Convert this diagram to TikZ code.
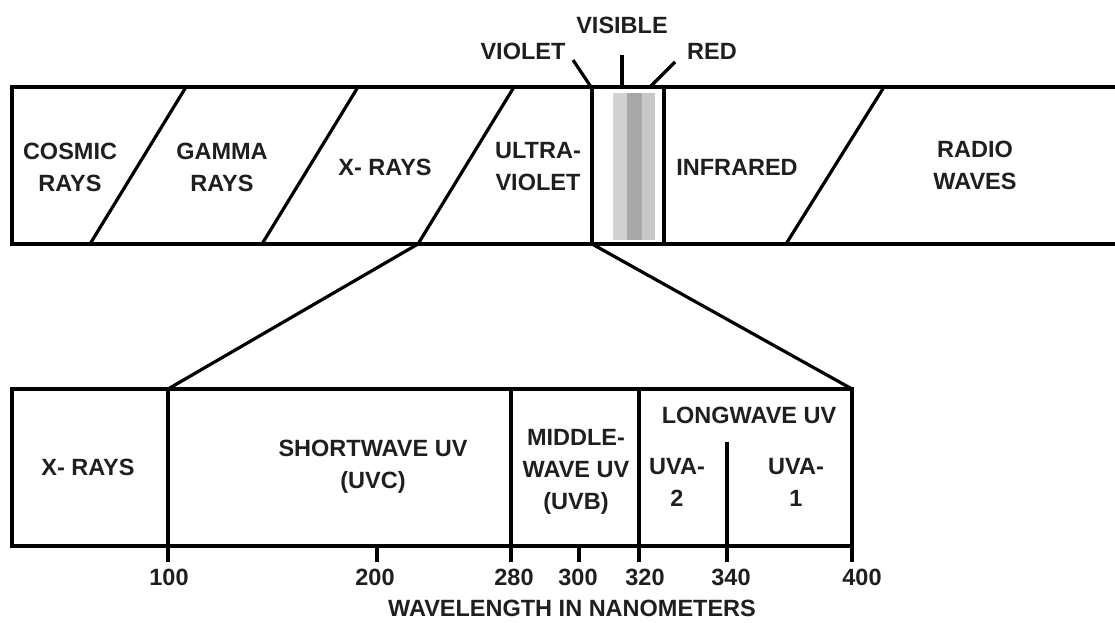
\documentclass[tikz,border=0pt]{standalone}
\usepackage{fontspec}
\setmainfont{Liberation Sans}
\begin{document}
\begin{tikzpicture}[x=1pt,y=-1pt,
  lw/.style={line width=3.2pt},
  lbl/.style={font=\bfseries\fontsize{23.5}{32}\selectfont, align=center, inner sep=0pt, text=black!88}]
\useasboundingbox (0,0) rectangle (1115,623);
% ---- top band ----
\coordinate (tl) at (12,87); \coordinate (tr) at (1115,87);
\coordinate (bl) at (12,244); \coordinate (br) at (1115,244);
% visible stripes
\fill[black!18] (613,93) rectangle (627,240);
\fill[black!34] (627,93) rectangle (642,240);
\fill[black!22] (642,93) rectangle (655,240);
\draw[lw] (tr) -- (tl) -- (bl) -- (br);
\foreach \t/\b [count=\i] in {186/90,358/262,514/418,884/786}{
  \coordinate (s\i t) at (\t,87); \coordinate (s\i b) at (\b,244);
  \draw[lw] (s\i t) -- (s\i b);
}
\coordinate (vlt) at (592,87); \coordinate (vlb) at (592,244);
\coordinate (vrt) at (664,87); \coordinate (vrb) at (664,244);
\draw[lw] (vlt) -- (vlb);
\draw[lw] (vrt) -- (vrb);
\node[lbl] (cosmic) at (70,167) {COSMIC\\RAYS};
\node[lbl] (gamma) at (222,167) {GAMMA\\RAYS};
\node[lbl] (xray) at (385,167) {X- RAYS};
\node[lbl] (uv) at (538,167) {ULTRA-\\VIOLET};
\node[lbl] (ir) at (737,167) {INFRARED};
\node[lbl] (radio) at (975,165) {RADIO\\WAVES};
% top labels
\node[lbl] (violet) at (523,51) {VIOLET};
\node[lbl] (visible) at (622,25) {VISIBLE};
\node[lbl] (red) at (712,51) {RED};
\coordinate (violetA) at (573,60); \coordinate (violetB) at (591,87);
\coordinate (visA) at (622,55); \coordinate (visB) at (622,87);
\coordinate (redA) at (675,62); \coordinate (redB) at (650,87);
\draw[lw] (violetA) -- (violetB);
\draw[lw] (visA) -- (visB);
\draw[lw] (redA) -- (redB);
\draw[lw] (vrt) -- (687,87);
% ---- bottom box ----
\coordinate (btl) at (12,389); \coordinate (bbr) at (852,546);
\draw[lw] (btl) rectangle (bbr);
\foreach \x/\n in {168/a,511/b,639/c,852/d}{
  \coordinate (\n t) at (\x,389); \coordinate (\n b) at (\x,562);
  \draw[lw] (\n t) -- (\n b);
}
\coordinate (uvat) at (727,442); \coordinate (uvab) at (727,562);
\draw[lw] (uvat) -- (uvab);
\foreach \x in {377,579}{ \draw[lw] (\x,546) -- (\x,562); }
% zoom lines
\draw[lw] (s3b) -- (at);
\draw[lw] (vlb) -- (dt);
% bottom labels
\node[lbl] at (88,467) {X- RAYS};
\node[lbl] at (373,467) {SHORTWAVE UV\\(UVC)};
\node[lbl] at (576,472) {MIDDLE-\\WAVE UV\\(UVB)};
\node[lbl] at (749,415) {LONGWAVE UV};
\node[lbl] at (677,482) {UVA-\\2};
\node[lbl] at (796,482) {UVA-\\1};
% numbers
\foreach \x/\v in {169/100,375/200,514/280,578/300,645/320,731/340,862/400}{
  \node[lbl] at (\x,577) {\v};
}
\node[lbl] (axis) at (572,608) {WAVELENGTH IN NANOMETERS};
\end{tikzpicture}
\end{document}
